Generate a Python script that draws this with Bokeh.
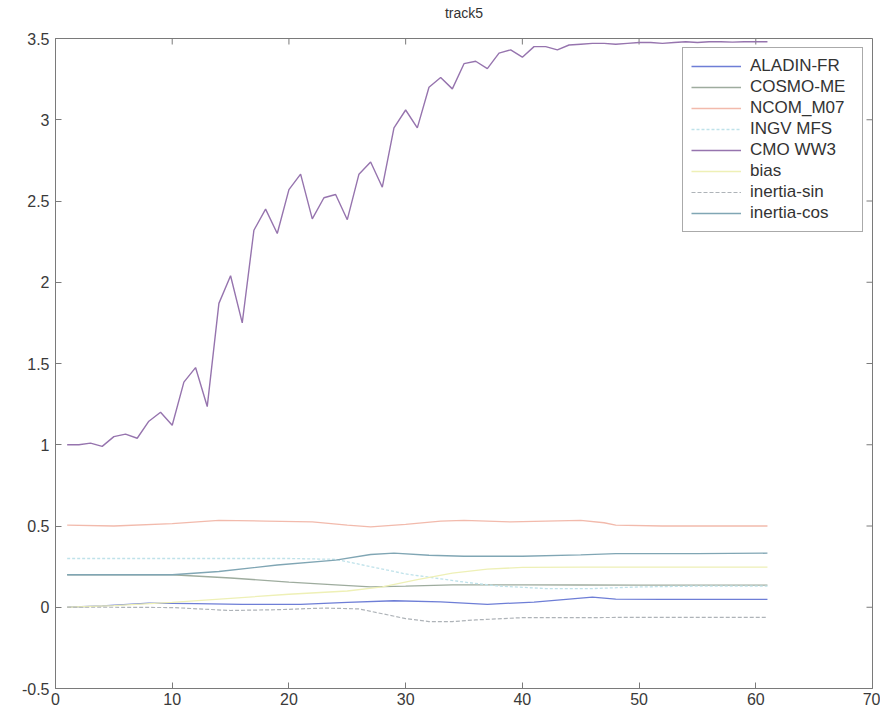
from bokeh.plotting import figure
from bokeh.models import FixedTicker, Legend, LegendItem, Range1d, Label
from bokeh.embed import file_html
from bokeh.resources import INLINE

# ---------------- data ----------------
x_cmo = list(range(1, 62))
y_cmo = [1.00, 1.00, 1.01, 0.99, 1.05, 1.065, 1.04, 1.145, 1.20, 1.12,
         1.385, 1.475, 1.235, 1.87, 2.04, 1.75, 2.32, 2.45, 2.30, 2.57,
         2.665, 2.39, 2.52, 2.54, 2.385, 2.665, 2.74, 2.585, 2.95, 3.06,
         2.95, 3.20, 3.26, 3.19, 3.345, 3.36, 3.315, 3.41, 3.43, 3.385,
         3.45, 3.45, 3.43, 3.46, 3.465, 3.47, 3.47, 3.465, 3.47, 3.475,
         3.475, 3.47, 3.475, 3.48, 3.475, 3.48, 3.48, 3.478, 3.48, 3.48, 3.48]

x_ncom = [1, 5, 10, 14, 18, 22, 25, 27, 30, 33, 35, 39, 42, 45, 47, 48, 52, 56, 61]
y_ncom = [0.505, 0.50, 0.515, 0.535, 0.53, 0.525, 0.505, 0.495, 0.51, 0.53,
          0.535, 0.525, 0.53, 0.535, 0.52, 0.505, 0.50, 0.50, 0.50]

x_icos = [1, 5, 10, 14, 19, 24, 27, 29, 32, 35, 40, 45, 48, 55, 61]
y_icos = [0.2, 0.2, 0.2, 0.22, 0.26, 0.29, 0.325, 0.333, 0.32, 0.314,
          0.314, 0.322, 0.33, 0.33, 0.333]

x_cosmo = [1, 5, 10, 15, 20, 24, 27, 30, 34, 40, 45, 50, 55, 61]
y_cosmo = [0.2, 0.2, 0.2, 0.18, 0.155, 0.138, 0.125, 0.13, 0.138, 0.138,
           0.137, 0.136, 0.136, 0.136]

x_aladin = [1, 4, 8, 12, 16, 21, 25, 29, 33, 37, 41, 44, 46, 48, 52, 56, 61]
y_aladin = [0.0, 0.008, 0.025, 0.022, 0.018, 0.018, 0.03, 0.04, 0.033, 0.018,
            0.032, 0.05, 0.062, 0.05, 0.048, 0.048, 0.048]

x_isin = [1, 5, 10, 15, 19, 23, 26, 28, 30, 32, 34, 36, 40, 45, 50, 55, 61]
y_isin = [0.0, 0.0, -0.002, -0.02, -0.015, -0.005, -0.01, -0.04, -0.07, -0.088,
          -0.088, -0.078, -0.064, -0.064, -0.062, -0.062, -0.062]

x_ingv = [1, 10, 20, 24, 27, 30, 33, 35, 38, 42, 46, 50, 55, 61]
y_ingv = [0.3, 0.3, 0.3, 0.295, 0.25, 0.205, 0.175, 0.155, 0.13, 0.115,
          0.115, 0.125, 0.13, 0.13]

x_bias = [1, 5, 10, 15, 20, 25, 28, 31, 34, 37, 40, 45, 50, 55, 61]
y_bias = [0.0, 0.01, 0.03, 0.055, 0.08, 0.1, 0.125, 0.17, 0.21, 0.235,
          0.245, 0.247, 0.247, 0.247, 0.247]

x_ticks = [0, 10, 20, 30, 40, 50, 60, 70]
y_ticks = [-0.5, 0, 0.5, 1, 1.5, 2, 2.5, 3, 3.5]
y_tick_labels = ["-0.5", "0", "0.5", "1", "1.5", "2", "2.5", "3", "3.5"]
title_text = "track5"

# ---------------- figure ----------------
FONT = "Liberation Sans"
X0, X1, Y0, Y1 = 0, 70, -0.5, 3.5
W, H = 880, 714
BL, BR, BT, BB = 55, 8, 38, 26
fw = W - BL - BR
fh = H - BT - BB
p = figure(width=W, height=H, output_backend="svg", toolbar_location=None,
           x_range=Range1d(X0, X1), y_range=Range1d(Y0, Y1),
           min_border_left=BL, min_border_right=BR, min_border_top=BT,
           min_border_bottom=BB)
p.xgrid.visible = False
p.ygrid.visible = False
axis_col = "#7a7a7a"
p.outline_line_color = axis_col

# title as a label in the top border panel, centred over the frame
p.add_layout(Label(x=fw / 2, y=26, x_units="screen", y_units="screen",
                   text=title_text, text_align="center", text_baseline="middle",
                   text_font=FONT, text_font_size="14px", text_color="#333333"),
             "above")

for ax in [p.xaxis[0], p.yaxis[0]]:
    ax.axis_line_color = axis_col
    ax.major_tick_line_color = axis_col
    ax.major_tick_in = 6
    ax.major_tick_out = 0
    ax.minor_tick_line_color = None
    ax.major_label_text_font = FONT
    ax.major_label_text_font_size = "16px"
    ax.major_label_text_color = "#3a3a3a"
p.xaxis[0].ticker = FixedTicker(ticks=x_ticks)
p.yaxis[0].ticker = FixedTicker(ticks=y_ticks)
p.yaxis[0].major_label_overrides = {t: l for t, l in zip(y_ticks, y_tick_labels)}
p.xaxis[0].major_label_standoff = 4
p.yaxis[0].major_label_standoff = 6

# mirror ticks on the top and right edges (MATLAB box), 6 px long
dy = 6 * (Y1 - Y0) / fh
dx = 6 * (X1 - X0) / fw
p.segment(x0=x_ticks, y0=[Y1] * len(x_ticks), x1=x_ticks, y1=[Y1 - dy] * len(x_ticks),
          line_color=axis_col, line_width=1)
p.segment(x0=[X1] * len(y_ticks), y0=y_ticks, x1=[X1 - dx] * len(y_ticks), y1=y_ticks,
          line_color=axis_col, line_width=1)

series = [
    ("ALADIN-FR", x_aladin, y_aladin, "#6e7ed6", 1.3, "solid"),
    ("COSMO-ME", x_cosmo, y_cosmo, "#9eac9e", 1.3, "solid"),
    ("NCOM_M07", x_ncom, y_ncom, "#f2baac", 1.3, "solid"),
    ("INGV MFS", x_ingv, y_ingv, "#bfe2ea", 1.3, "3 2"),
    ("CMO WW3", x_cmo, y_cmo, "#9674ae", 1.4, "solid"),
    ("bias", x_bias, y_bias, "#eef0b6", 1.3, "solid"),
    ("inertia-sin", x_isin, y_isin, "#aeb3b8", 1.2, "4 2"),
    ("inertia-cos", x_icos, y_icos, "#80a6b4", 1.4, "solid"),
]
items = []
for name, xs, ys, col, lw, dash in series:
    r = p.line(xs, ys, line_color=col, line_width=lw, line_dash=dash)
    items.append(LegendItem(label=name, renderers=[r]))

legend = Legend(items=items, location="top_right")
legend.margin = 9
legend.padding = 8
legend.spacing = 1
legend.glyph_width = 50
legend.glyph_height = 20
legend.label_height = 20
legend.label_width = 104
legend.label_standoff = 9
legend.label_text_font = FONT
legend.label_text_font_size = "17px"
legend.label_text_color = "#333333"
legend.border_line_color = "#555555"
legend.border_line_width = 1
legend.background_fill_color = "white"
legend.background_fill_alpha = 1
p.add_layout(legend, "center")

open("out.html", "w").write(file_html(p, INLINE))
